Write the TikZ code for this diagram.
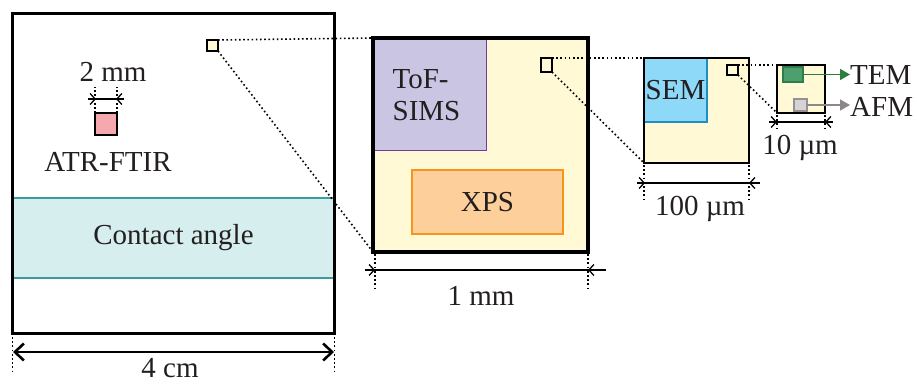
\documentclass[tikz,border=0pt]{standalone}
\usepackage{fontspec}
\setmainfont{Liberation Serif}
\usetikzlibrary{arrows.meta,calc}
\definecolor{paleyellow}{HTML}{FFF9D6}
\definecolor{tofFill}{HTML}{C9C5E2}
\definecolor{tofLine}{HTML}{7E3794}
\definecolor{xpsFill}{HTML}{FDD09B}
\definecolor{xpsLine}{HTML}{F7941D}
\definecolor{semFill}{HTML}{8ED8F8}
\definecolor{semLine}{HTML}{1C8FC7}
\definecolor{temFill}{HTML}{4E9F6E}
\definecolor{temLine}{HTML}{2E7D4F}
\definecolor{temArrow}{HTML}{2E7D3E}
\definecolor{afmFill}{HTML}{D4D4D8}
\definecolor{afmLine}{HTML}{9A8F8F}
\definecolor{afmArrow}{HTML}{8C8888}
\definecolor{pinkFill}{HTML}{F5A9AE}
\definecolor{caFill}{HTML}{D6EEEE}
\definecolor{caLine}{HTML}{3A9C9C}
\definecolor{txt}{HTML}{231F20}
\tikzset{
  box/.style={draw, rectangle, inner sep=0pt, outer sep=0pt, anchor=north west},
  lbl/.style={font=\fontsize{29}{32}\selectfont, text=txt, inner sep=0pt},
  zoomline/.style={line width=1.6pt, dash pattern=on 1.6pt off 2.6pt},
  dimline/.style={line width=1.6pt, dash pattern=on 1.8pt off 2.4pt},
  meas/.style={line width=1.3pt},
  inarrow/.style={line width=1.3pt, -{Straight Barb[length=5pt,width=11pt]}},
}
\begin{document}
\begin{tikzpicture}[x=1pt,y=-1pt]
\useasboundingbox[fill=white] (0,0) rectangle (917,383);

% ---------- big sample (4 cm) ----------
\node[box, line width=3pt, minimum width=322pt, minimum height=320pt] (big) at (12.5,13) {};
\node[box, draw=caLine, fill=caFill, line width=2.6pt, minimum width=322pt, minimum height=80pt, lbl] (ca) at (12.5,198) {Contact angle};
\draw[line width=3pt] (big.north west) rectangle (big.south east);

% small square on the big sample
\node[box, fill=paleyellow, line width=1.4pt, minimum width=11pt, minimum height=11pt] (sq1) at (207,40) {};

% ATR-FTIR
\node[box, fill=pinkFill, line width=1.2pt, minimum width=22pt, minimum height=22pt] (atr) at (95,113) {};
\node[lbl] (atrlbl) at (108,162) {ATR-FTIR};
\coordinate (atrdl1) at ($(atr.north west)+(0,-26)$);
\coordinate (atrdr1) at ($(atr.north east)+(0,-26)$);
\draw[dimline] (atr.north west) -- (atrdl1);
\draw[dimline] (atr.north east) -- (atrdr1);
\coordinate (atrA) at (88,99);
\coordinate (atrB) at (96,99);
\coordinate (atrC) at (116,99);
\coordinate (atrD) at (124,99);
\draw[meas] (atrA) -- (atrD);
\draw[inarrow] (atrA) -- (atrB);
\draw[inarrow] (atrD) -- (atrC);
\node[lbl] (twomm) at (113,72) {2 mm};

% 4 cm dimension
\coordinate (bl1) at ($(big.south west)+(0,4)$);
\coordinate (bl2) at ($(big.south west)+(0,39)$);
\coordinate (br1) at ($(big.south east)+(0,4)$);
\coordinate (br2) at ($(big.south east)+(0,39)$);
\draw[dimline] (bl1) -- (bl2);
\draw[dimline] (br1) -- (br2);
\coordinate (fa) at (13,352);
\coordinate (fb) at (334,352);
\draw[line width=2pt, {Straight Barb[length=9pt,width=17pt,line width=2.6pt]}-{Straight Barb[length=9pt,width=17pt,line width=2.6pt]}] (fa) -- (fb);
\node[lbl, anchor=base] (fourcm) at (170,377) {4 cm};

% ---------- 1 mm region ----------
\node[box, fill=paleyellow, line width=3.5pt, minimum width=215pt, minimum height=214pt] (mid) at (373,38) {};
\node[box, draw=tofLine, fill=tofFill, line width=1.2pt, minimum width=112pt, minimum height=111pt] (tof) at (374.5,39.5) {};
\node[lbl, align=left] (toflbl) at ($(tof.center)+(-4,0)$) {ToF-\\SIMS};
\node[box, draw=xpsLine, fill=xpsFill, line width=1.2pt, minimum width=151pt, minimum height=64pt, lbl] (xps) at (412,170) {XPS};
\draw[line width=3.5pt] (mid.north west) rectangle (mid.south east);
\node[box, fill=paleyellow, line width=1.6pt, minimum width=11pt, minimum height=14pt] (sq2) at (541,58) {};

% zoom lines big -> mid
\draw[zoomline] (sq1.north east) -- (mid.north west);
\draw[zoomline] (sq1.south east) -- (mid.south west);

% 1 mm dimension
\coordinate (ml1) at ($(mid.south west)+(2,2)$);
\coordinate (ml2) at ($(mid.south west)+(2,38)$);
\coordinate (mr1) at ($(mid.south east)+(0,2)$);
\coordinate (mr2) at ($(mid.south east)+(0,38)$);
\draw[dimline] (ml1) -- (ml2);
\draw[dimline] (mr1) -- (mr2);
\coordinate (mA) at (365,270);
\coordinate (mB) at (375,270);
\coordinate (mC) at (588,270);
\coordinate (mD) at (606,270);
\draw[meas] (mA) -- (mD);
\draw[inarrow] (mA) -- (mB);
\draw[inarrow] (mD) -- (mC);
\node[lbl] (onemm) at (481,296) {1 mm};

% ---------- 100 um region ----------
\node[box, fill=paleyellow, line width=1.6pt, minimum width=105pt, minimum height=105pt] (semreg) at (644,58) {};
\node[box, draw=semLine, fill=semFill, line width=1.2pt, minimum width=63pt, minimum height=64pt, lbl] (sem) at (644,58) {SEM};
\draw[line width=1.6pt] (semreg.north west) rectangle (semreg.south east);
\node[box, fill=paleyellow, line width=1.4pt, minimum width=11pt, minimum height=10pt] (sq3) at (727,65) {};

\draw[zoomline] (sq2.north east) -- (semreg.north west);
\draw[zoomline] (sq2.south east) -- (semreg.south west);

% 100 um dimension
\coordinate (sl1) at ($(semreg.south west)+(0,2)$);
\coordinate (sl2) at ($(semreg.south west)+(0,38)$);
\coordinate (sr1) at ($(semreg.south east)+(0,2)$);
\coordinate (sr2) at ($(semreg.south east)+(0,38)$);
\draw[dimline] (sl1) -- (sl2);
\draw[dimline] (sr1) -- (sr2);
\coordinate (sA) at (637,183);
\coordinate (sB) at (645,183);
\coordinate (sC) at (749,183);
\coordinate (sD) at (760,183);
\draw[meas] (sA) -- (sD);
\draw[inarrow] (sA) -- (sB);
\draw[inarrow] (sD) -- (sC);
\node[lbl] (hundum) at (700,209) {100 µm};

% ---------- 10 um region ----------
\node[box, fill=paleyellow, line width=1.6pt, minimum width=48pt, minimum height=48pt] (tenreg) at (777,65) {};
\node[box, draw=temLine, fill=temFill, line width=1.2pt, minimum width=20pt, minimum height=15pt] (tem) at (783,67) {};
\node[box, draw=afmLine, fill=afmFill, line width=1.2pt, minimum width=13pt, minimum height=12pt] (afm) at (794,99) {};

\draw[zoomline] (sq3.north east) -- (tenreg.north west);
\draw[zoomline] (sq3.south east) -- (tenreg.south west);

\node[lbl, anchor=west] (temlbl) at (850,75) {TEM};
\node[lbl, anchor=west] (afmlbl) at (850,107) {AFM};
\draw[temArrow, line width=1.6pt, -{Triangle[length=10pt,width=11pt]}] (tem.east) -- (temlbl.west |- tem.east);
\draw[afmArrow, line width=1.6pt, -{Triangle[length=10pt,width=11pt]}] (afm.east) -- (afmlbl.west |- afm.east);

% 10 um dimension
\coordinate (tl1) at ($(tenreg.south west)+(0,2)$);
\coordinate (tl2) at ($(tenreg.south west)+(0,18)$);
\coordinate (tr1) at ($(tenreg.south east)+(0,2)$);
\coordinate (tr2) at ($(tenreg.south east)+(0,18)$);
\draw[dimline] (tl1) -- (tl2);
\draw[dimline] (tr1) -- (tr2);
\coordinate (tA) at (769,122);
\coordinate (tB) at (777,122);
\coordinate (tC) at (825,122);
\coordinate (tD) at (833,122);
\draw[meas] (tA) -- (tD);
\draw[inarrow] (tA) -- (tB);
\draw[inarrow] (tD) -- (tC);
\node[lbl] (tenum) at (800,148) {10 µm};
\end{tikzpicture}
\end{document}
